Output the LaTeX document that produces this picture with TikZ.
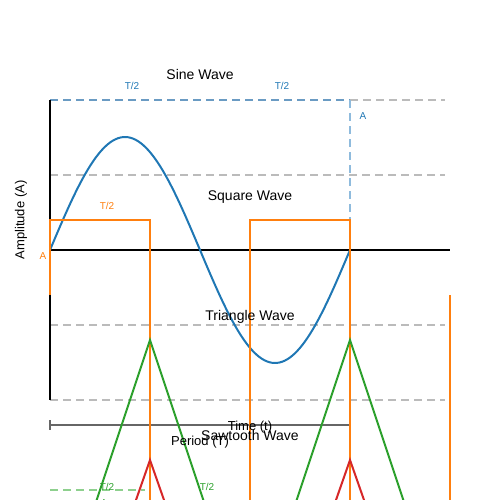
\documentclass[tikz,border=0pt]{standalone}
\usepackage{fontspec}
\setmainfont{Liberation Sans}
\definecolor{cblue}{HTML}{1F77B4}
\definecolor{corange}{HTML}{FF7F0E}
\definecolor{cgreen}{HTML}{2CA02C}
\definecolor{cred}{HTML}{D62728}
\definecolor{cgrid}{HTML}{BBBBBB}
\definecolor{cbluedash}{HTML}{6A9BC3}
\definecolor{cbluedashv}{HTML}{8FBBDD}
\definecolor{cgreendash}{HTML}{8ED08E}
\definecolor{cbar}{HTML}{666666}
\begin{document}
\begin{tikzpicture}[x=1pt,y=-1pt,
  grid/.style={draw=cgrid,line width=2pt,dash pattern=on 8pt off 5pt},
  wave/.style={line width=2pt},
  title/.style={font=\fontsize{14}{16}\selectfont,inner sep=0pt,anchor=base},
  small/.style={font=\fontsize{10}{12}\selectfont,inner sep=0pt},
  mid/.style={font=\fontsize{13}{15}\selectfont,inner sep=0pt}]
\useasboundingbox (0,0) rectangle (500,500);
\begin{scope}
\clip (0,0) rectangle (500,500);
% grid
\draw[grid] (350,100) -- (445,100);
\draw[grid] (50,175) -- (445,175);
\draw[grid] (50,325) -- (445,325);
\draw[grid] (50,400) -- (445,400);
\draw[draw=cbluedash,line width=2pt,dash pattern=on 8pt off 5pt] (50,100) -- (350,100);
\draw[draw=cbluedashv,line width=2pt,dash pattern=on 8pt off 5pt] (350,100) -- (350,250);
\draw[draw=cgreendash,line width=2pt,dash pattern=on 8pt off 5pt] (50,490) -- (145,490);
% axes
\draw[line width=2pt] (50,100) -- (50,400);
\draw[line width=2pt] (50,250) -- (450,250);
% period bar
\draw[draw=cbar,line width=2pt] (50,425) -- (350,425);
\draw[draw=cbar,line width=1.5pt] (50,420) -- (50,430);
\draw[draw=cbar,line width=1.5pt] (350,420) -- (350,430);
% sine
\draw[wave,cblue] plot[domain=50:350,samples=120,smooth] (\x,{250-113*sin(1.2*(\x-50))});
% square
\draw[wave,corange] (50,295) -- (50,220) -- (150,220) -- (150,520) -- (250,520) -- (250,220) -- (350,220) -- (350,520) -- (450,520) -- (450,295);
% triangle
\draw[wave,cgreen] (50,640) -- (150,340) -- (250,640) -- (350,340) -- (450,640);
% sawtooth
\draw[wave,cred] (122,540) -- (150,460) -- (178,540);
\draw[wave,cred] (322,540) -- (350,460) -- (378,540);
\end{scope}
% labels
\node[title] (sine) at (200,80) {Sine Wave};
\node[title] (square) at (250,200) {Square Wave};
\node[title] (tri) at (250,320) {Triangle Wave};
\node[title] (saw) at (250,440) {Sawtooth Wave};
\node[mid,rotate=90] (amp) at (21,220) {Amplitude (A)};
\node[mid,anchor=base] (time) at (250,430.5) {Time (t)};
\node[mid,anchor=base] (period) at (200,445.5) {Period (T)};
\node[small,text=cblue] (t1) at (132,86) {T/2};
\node[small,text=cblue] (t2) at (282,86) {T/2};
\node[small,text=cblue] (a1) at (363,116) {A};
\node[small,text=corange] (t3) at (107,206) {T/2};
\node[small,text=corange] (a2) at (43,256) {A};
\node[small,text=cgreen] (t4) at (107,487) {T/2};
\node[small,text=cgreen] (t5) at (207,487) {T/2};
\begin{scope}
\clip (0,0) rectangle (500,500);
\node[small,text=cgreen] (a3) at (104,503) {A};
\end{scope}
\end{tikzpicture}
\end{document}
